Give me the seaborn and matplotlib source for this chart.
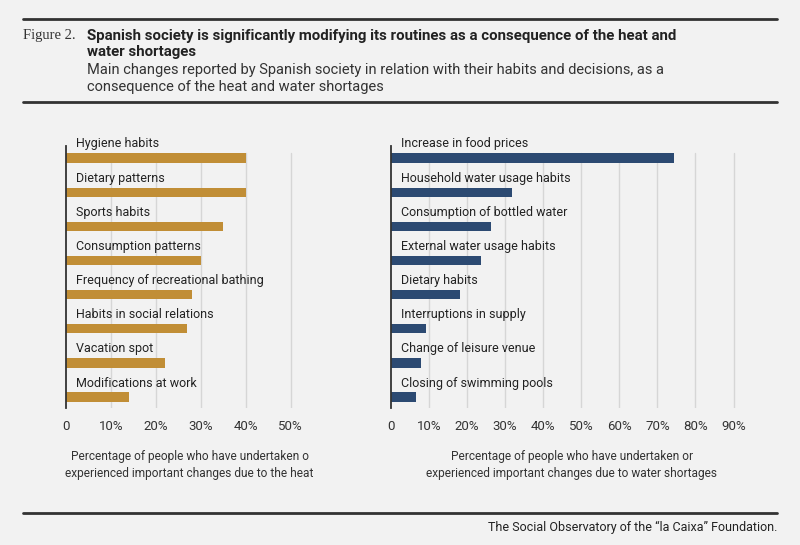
import matplotlib
matplotlib.use("Agg")
import matplotlib.pyplot as plt
import seaborn as sns
import pandas as pd
from matplotlib.font_manager import fontManager

heat_categories = ["Hygiene habits", "Dietary patterns", "Sports habits", "Consumption patterns",
                   "Frequency of recreational bathing", "Habits in social relations",
                   "Vacation spot", "Modifications at work"]
heat_values = [40, 40, 35, 30, 28, 27, 22, 14]

water_categories = ["Increase in food prices", "Household water usage habits",
                    "Consumption of bottled water", "External water usage habits",
                    "Dietary habits", "Interruptions in supply", "Change of leisure venue",
                    "Closing of swimming pools"]
water_values = [74.4, 31.9, 26.3, 23.6, 18.2, 9.2, 7.9, 6.6]

heat_ticks = [0, 10, 20, 30, 40, 50]
heat_ticklabels = ["0", "10%", "20%", "30%", "40%", "50%"]
water_ticks = [0, 10, 20, 30, 40, 50, 60, 70, 80, 90]
water_ticklabels = ["0", "10%", "20%", "30%", "40%", "50%", "60%", "70%", "80%", "90%"]

title = "Spanish society is significantly modifying its routines as a consequence of the heat and\nwater shortages"
subtitle = "Main changes reported by Spanish society in relation with their habits and decisions, as a\nconsequence of the heat and water shortages"
heat_xlabel = "Percentage of people who have undertaken o\nexperienced important changes due to the heat"
water_xlabel = "Percentage of people who have undertaken or\nexperienced important changes due to water shortages"
source = "The Social Observatory of the \u201cla Caixa\u201d Foundation."

BG = "#f2f2f2"
GOLD = "#c18e36"
NAVY = "#2c4a72"
DARK = "#333333"

sns.set_theme(style="white")
names = {f.name for f in fontManager.ttflist}
narrow = "Liberation Sans Narrow" if "Liberation Sans Narrow" in names else "Roboto"
plt.rcParams['font.family'] = ['Roboto', 'DejaVu Sans']

fig = plt.figure(figsize=(8, 5.45), dpi=100, facecolor=BG)

def panel(rect, cats, vals, color, xmax, ticks, ticklabels, xlabel):
    ax = fig.add_axes(rect)
    ax.set_facecolor(BG)
    df = pd.DataFrame({"cat": cats, "val": vals})
    for t in ticks[1:]:
        ax.axvline(t, ymin=0, ymax=0.973, color="#d6d6d6", lw=1, zorder=0)
    sns.barplot(data=df, x="val", y="cat", orient="h", color=color, width=0.27,
                saturation=1, linewidth=0, ax=ax, zorder=2)
    ax.set_xlim(0, xmax)
    ax.set_ylim(len(cats) - 1 + 0.32, -0.35)
    ax.set_yticks([])
    ax.set_ylabel("")
    ax.set_xlabel("")
    ax.set_xticks(ticks)
    ax.set_xticklabels(ticklabels, fontsize=9.5, color=DARK)
    ax.tick_params(axis="x", length=0, pad=9)
    for s in ["top", "right", "bottom"]:
        ax.spines[s].set_visible(False)
    ax.spines["left"].set_color(DARK)
    ax.spines["left"].set_linewidth(1.3)
    for i, c in enumerate(cats):
        ax.annotate(c, xy=(0, i), xytext=(10, 14), textcoords="offset pixels",
                    ha="left", va="center", fontsize=9, color="#222222")
    ax.text(0.5, -0.162, xlabel, transform=ax.transAxes, ha="center", va="top",
            fontsize=8.6, color=DARK, family=[narrow, 'Roboto'], linespacing=1.4)
    return ax

panel([66/800, 1 - 408/545, 247/800, 262/545], heat_categories, heat_values, GOLD,
      55, heat_ticks, heat_ticklabels, heat_xlabel)
panel([390.7/800, 1 - 408/545, 361.9/800, 262/545], water_categories, water_values, NAVY,
      95, water_ticks, water_ticklabels, water_xlabel)

def hline(y, lw):
    fig.add_artist(plt.Line2D([23/800, 777/800], [1 - y/545] * 2, color=DARK, lw=lw,
                              transform=fig.transFigure))

hline(19, 2)
hline(102, 2)
hline(513, 2)

fig.text(23/800, 1 - 36/545, "Figure 2.", ha="left", va="center", fontsize=10.5,
         family=["Liberation Serif", "DejaVu Serif"], color=DARK)
fig.text(87/800, 1 - 29/545, title, ha="left", va="top", fontsize=10.8, fontweight="bold",
         family=[narrow, 'Roboto'], color="#222222", linespacing=1.2)
fig.text(87/800, 1 - 63/545, subtitle, ha="left", va="top", fontsize=10.5,
         family=[narrow, 'Roboto'], color=DARK, linespacing=1.25)
fig.text(777/800, 1 - 527/545, source, ha="right", va="center", fontsize=9,
         family=[narrow, 'Roboto'], color="#222222")

fig.savefig("out.png", dpi=100, facecolor=BG)
